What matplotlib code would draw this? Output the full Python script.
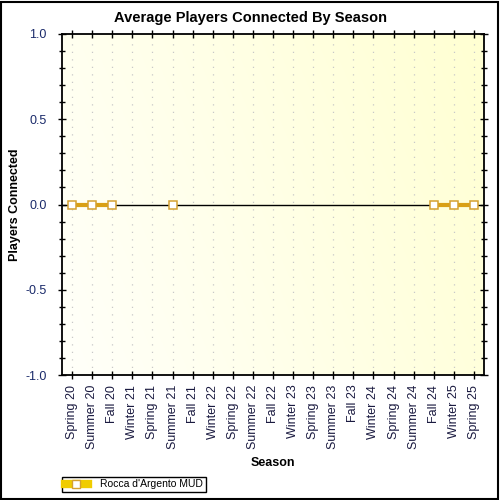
import numpy as np
import matplotlib.pyplot as plt
from matplotlib.ticker import MultipleLocator, FixedLocator
from matplotlib.lines import Line2D
from matplotlib.patches import Rectangle

plt.rcParams['font.family'] = ['Liberation Sans', 'DejaVu Sans']

seasons = ["Spring 20", "Summer 20", "Fall 20", "Winter 21", "Spring 21",
           "Summer 21", "Fall 21", "Winter 22", "Spring 22", "Summer 22",
           "Fall 22", "Winter 23", "Spring 23", "Summer 23", "Fall 23",
           "Winter 24", "Spring 24", "Summer 24", "Fall 24", "Winter 25",
           "Spring 25"]
nan = np.nan
players = [0, 0, 0, nan, nan, 0, nan, nan, nan, nan, nan, nan, nan, nan,
           nan, nan, nan, nan, 0, 0, 0]
series_name = "Rocca d'Argento MUD"

fig = plt.figure(figsize=(5, 5), dpi=100)
ax = fig.add_axes([0.124, 0.25, 0.844, 0.682])

x = np.arange(len(seasons))

# gradient background
gx, gy = np.meshgrid(np.linspace(0, 1, 200), np.linspace(0, 1, 200))
t = (gx * 0.75 + gy * 0.25)
img = np.zeros((200, 200, 3))
img[..., 0] = 1.0
img[..., 1] = 1.0
img[..., 2] = (250 - 40 * t) / 255
ax.imshow(img, extent=(-0.5, len(seasons) - 0.5, -1, 1), origin='lower',
          aspect='auto', zorder=0)

for xi in x:
    ax.axvline(xi, color='#c8c8c8', lw=0.9, ls=(0, (1, 5)), zorder=1)
ax.axhline(0, color='black', lw=1, zorder=2)

ax.plot(x, players, color='#d9a014', lw=3, zorder=3)
ax.plot(x, players, ls='none', marker='s', ms=5.5, mfc='white',
        mec='#d4a030', mew=1.1, zorder=4)

ax.set_xlim(-0.5, len(seasons) - 0.5)
ax.set_ylim(-1, 1)
ax.xaxis.set_major_locator(FixedLocator(x))
ax.set_xticklabels(seasons, rotation=90, fontsize=9, color='#1a1a40')
ax.yaxis.set_minor_locator(MultipleLocator(0.1))
ax.set_yticks([-1, -0.5, 0, 0.5, 1])
ax.set_yticklabels(["-1.0", "-0.5", "0.0", "0.5", "1.0"], fontsize=9,
                   color='#1a2a6a')

ax.tick_params(axis='x', which='major', direction='inout', length=6,
               width=1, bottom=True, pad=4)
ax.tick_params(axis='x', which='major', top=True)
ax.tick_params(axis='y', which='major', direction='inout', length=6,
               width=1, left=True, right=True, pad=8)
ax.tick_params(axis='y', which='minor', direction='inout', length=4,
               width=1, left=True, right=True)

for s in ax.spines.values():
    s.set_linewidth(1.3)

fig.text(0.5, 0.964, "Average Players Connected By Season", fontsize=10.5,
         fontweight='bold', ha='center', va='center')
ax.set_xlabel("Season", fontsize=9, fontweight='bold', labelpad=6)
ax.set_ylabel("Players Connected", fontsize=9, fontweight='bold')
ax.yaxis.set_label_coords(-0.097, 0.5)

handle = Line2D([0], [0], color='#f0cc00', lw=6, marker='s', ms=6,
                mfc='white', mec='#d4a030')
leg = fig.legend([handle], [series_name], loc='lower left',
                 bbox_to_anchor=(0.124, 0.016), fontsize=7.5, fancybox=False,
                 edgecolor='black', framealpha=1, borderpad=0.25,
                 handlelength=2.2, handletextpad=1.2, borderaxespad=0)
leg.get_frame().set_linewidth(1)

fig.patches.append(Rectangle((0.002, 0.002), 0.994, 0.994,
                             transform=fig.transFigure, fill=False,
                             edgecolor='black', lw=1.5))

fig.savefig("out.png", dpi=100)
